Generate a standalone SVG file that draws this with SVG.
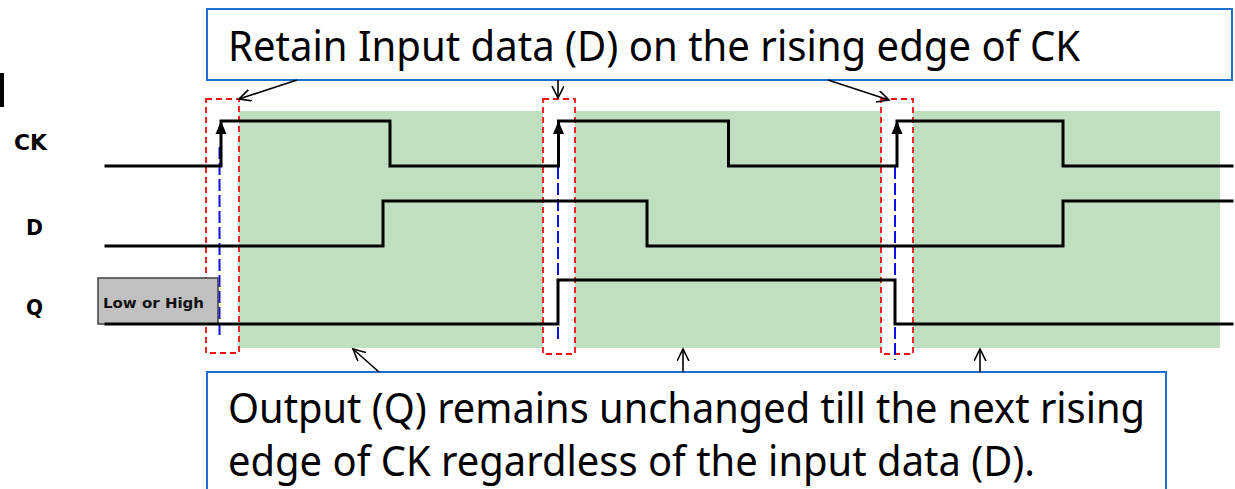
<svg xmlns="http://www.w3.org/2000/svg" width="1235" height="489" viewBox="0 0 1235 489">
<style>
.sig{fill:none;stroke:#000;stroke-width:3;stroke-linejoin:miter;stroke-linecap:square}
.win{fill:#fff;stroke:#f01010;stroke-width:1.8;stroke-dasharray:6 4}
.blue{fill:none;stroke:#1010e0;stroke-width:2;stroke-dasharray:12 4}
.callout{fill:#fff;stroke:#1f6fd0;stroke-width:2}
.big{font-family:"Noto Sans","Open Sans",sans-serif;font-size:42px;fill:#000}
.lbl{font-family:"DejaVu Sans",Verdana,sans-serif;font-weight:bold;font-size:22px;fill:#000}
.conn{fill:none;stroke:#000;stroke-width:1.6}
</style>
<defs>
<marker id="open" markerUnits="userSpaceOnUse" markerWidth="16" markerHeight="16" refX="12" refY="6" orient="auto">
<path d="M0,0 L12,6 L0,12" fill="none" stroke="#000" stroke-width="1.6"/>
</marker>
</defs>
<rect x="0" y="73" width="4" height="34" fill="#000"/>
<g id="hold-area">
<rect x="239" y="111" width="981" height="237" fill="#c0dfc0"/>
</g>
<g id="windows">
<rect class="win" x="206" y="99" width="33" height="254"/>
<rect class="win" x="543" y="99" width="32" height="255"/>
<rect class="win" x="881" y="99" width="32" height="255"/>
</g>
<g id="edge-markers">
<line class="blue" x1="219.5" y1="147" x2="219.5" y2="339"/>
<line class="blue" x1="558" y1="167" x2="558" y2="339"/>
<line class="blue" x1="895" y1="167" x2="895" y2="360"/>
</g>
<g id="q-init">
<rect x="98" y="278" width="120" height="46" fill="#c0c0c0" stroke="#404040" stroke-width="1.5"/>
<text x="103" y="308" font-family="'DejaVu Sans',Verdana,sans-serif" font-weight="bold" font-size="14" fill="#111" textLength="101" lengthAdjust="spacingAndGlyphs">Low or High</text>
</g>
<g id="ck-signal">
<path class="sig" d="M106,166 H221 V121 H390 V166 H558.5 V121 H728.5 V166 H897 V121 H1063 V166 H1232"/>
<path d="M215.5,134 L221,121 L226.5,134 Z" fill="#000"/>
<path d="M553,134 L558.5,121 L564,134 Z" fill="#000"/>
<path d="M891.5,134 L897,121 L902.5,134 Z" fill="#000"/>
</g>
<g id="d-signal">
<path class="sig" d="M106,246 H383 V201 H647 V246 H1063 V201 H1232"/>
</g>
<g id="q-signal">
<path class="sig" d="M106,324 H558 V280 H895 V324 H1232"/>
</g>
<g id="labels">
<text class="lbl" x="14" y="150" textLength="33" lengthAdjust="spacingAndGlyphs">CK</text>
<text class="lbl" x="26" y="235" textLength="17" lengthAdjust="spacingAndGlyphs">D</text>
<text class="lbl" x="26" y="315" textLength="17" lengthAdjust="spacingAndGlyphs">Q</text>
</g>
<g id="callout-top">
<rect class="callout" x="207" y="9" width="1025" height="71"/>
<text class="big" x="228" y="61" textLength="852" lengthAdjust="spacingAndGlyphs">Retain Input data (D) on the rising edge of CK</text>
</g>
<g id="callout-bottom">
<rect class="callout" x="207" y="372" width="959" height="130"/>
<text class="big" x="228" y="423" textLength="917" lengthAdjust="spacingAndGlyphs">Output (Q) remains unchanged till the next rising</text>
<text class="big" x="228" y="476" textLength="807" lengthAdjust="spacingAndGlyphs">edge of CK regardless of the input data (D).</text>
</g>
<g id="connectors">
<line class="conn" x1="297" y1="80" x2="239" y2="99" marker-end="url(#open)"/>
<line class="conn" x1="558" y1="80" x2="558" y2="98" marker-end="url(#open)"/>
<line class="conn" x1="828" y1="80" x2="889" y2="100" marker-end="url(#open)"/>
<line class="conn" x1="379" y1="372" x2="353" y2="349" marker-end="url(#open)"/>
<line class="conn" x1="683" y1="372" x2="683" y2="349" marker-end="url(#open)"/>
<line class="conn" x1="980" y1="372" x2="980" y2="349" marker-end="url(#open)"/>
</g>
</svg>
